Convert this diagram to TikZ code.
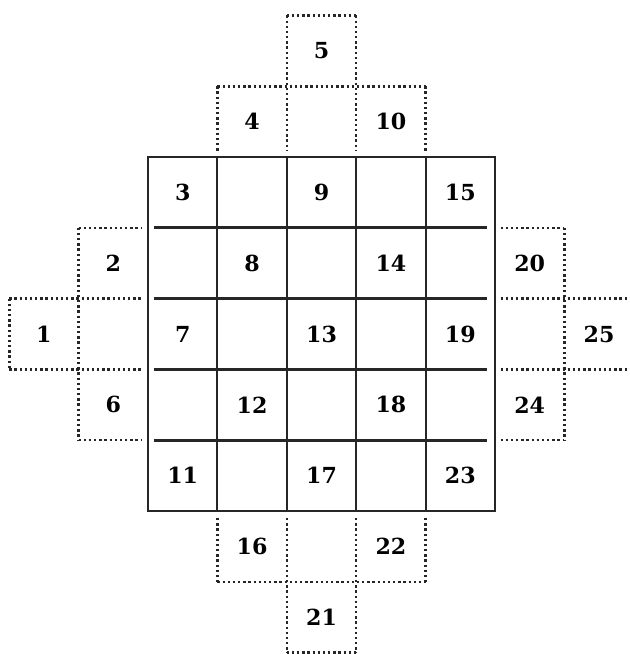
\documentclass[tikz,border=0pt]{standalone}
\usepackage{fontspec}
\newfontfamily\numfont{DejaVu Serif}
\usetikzlibrary{positioning}

\begin{document}
\begin{tikzpicture}[
    x=1.983cm, y=-2.023cm,
    font=\numfont\bfseries\fontsize{18}{21}\selectfont,
    frame/.style={line width=2.2pt, draw=black!85},
    rule/.style={line width=1.7pt, draw=black!85},
    terrace/.style={line width=2.1pt, draw=black!85, dash pattern=on 1.9pt off 2.3pt}
  ]
    \useasboundingbox (-2.133,-2.218) rectangle (6.931,7.020);

    % main square
    \draw[frame] (0,0) rectangle (5,5);
    \foreach \k in {1,...,4} {
      \draw[rule] (\k,0) -- (\k,5);
      \draw[frame] (0.08,\k) -- (4.88,\k);
    }

    % terraces outside the square
    % left
    \draw[terrace] (-1,1) -- (-0.08,1);
    \draw[terrace] (-2,2) -- (-0.08,2);
    \draw[terrace] (-2,3) -- (-0.08,3);
    \draw[terrace] (-1,4) -- (-0.08,4);
    \draw[terrace] (-2,2) -- (-2,3);
    \draw[terrace] (-1,1) -- (-1,4);
    % top
    \draw[terrace] (1,-1) -- (1,-0.08);
    \draw[terrace] (2,-2) -- (2,-0.08);
    \draw[terrace] (3,-2) -- (3,-0.08);
    \draw[terrace] (4,-1) -- (4,-0.08);
    \draw[terrace] (2,-2) -- (3,-2);
    \draw[terrace] (1,-1) -- (4,-1);
    % right
    \draw[terrace] (5.08,1) -- (6,1);
    \draw[terrace] (5.08,2) -- (7,2);
    \draw[terrace] (5.08,3) -- (7,3);
    \draw[terrace] (5.08,4) -- (6,4);
    \draw[terrace] (6,1) -- (6,4);
    % bottom
    \draw[terrace] (1,5.1) -- (1,6);
    \draw[terrace] (2,5.1) -- (2,7);
    \draw[terrace] (3,5.1) -- (3,7);
    \draw[terrace] (4,5.1) -- (4,6);
    \draw[terrace] (1,6) -- (4,6);
    \draw[terrace] (2,7) -- (3,7);

    % numbers along the diagonals
    \foreach \a in {0,...,4} {
      \foreach \b in {0,...,4} {
        \pgfmathtruncatemacro{\num}{5*\a+\b+1}
        \node (num\num) at ({\a+\b-1.5},{\a-\b+2.5}) {\num};
      }
    }
  \end{tikzpicture}
\end{document}
